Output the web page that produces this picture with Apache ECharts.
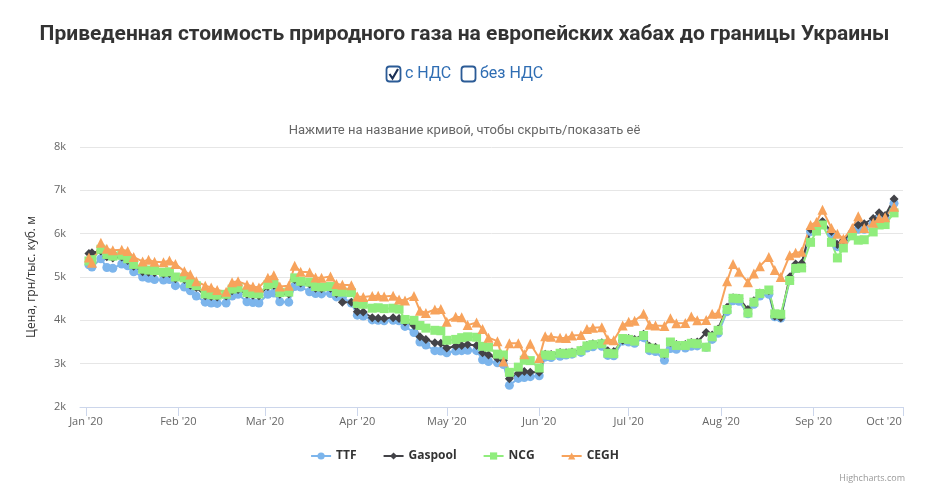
<!DOCTYPE html>
<html>
<head>
<meta charset="utf-8">
<script src="https://cdn.jsdelivr.net/npm/echarts@6/dist/echarts.min.js"></script>
<style>
  html, body { margin: 0; padding: 0; background: #fff; }
  #chart { width: 929px; height: 493px; }
</style>
</head>
<body>
<div id="chart"></div>
<script>
// sampled trading days (Mon / Wed / Fri)
const dates = [
    "2020-01-02", "2020-01-03", "2020-01-06", "2020-01-08", "2020-01-10", "2020-01-13", "2020-01-15", "2020-01-17",
    "2020-01-20", "2020-01-22", "2020-01-24", "2020-01-27", "2020-01-29", "2020-01-31",
    "2020-02-03", "2020-02-05", "2020-02-07", "2020-02-10", "2020-02-12", "2020-02-14", "2020-02-17", "2020-02-19",
    "2020-02-21", "2020-02-24", "2020-02-26", "2020-02-28",
    "2020-03-02", "2020-03-04", "2020-03-06", "2020-03-09", "2020-03-11", "2020-03-13", "2020-03-16", "2020-03-18",
    "2020-03-20", "2020-03-23", "2020-03-25", "2020-03-27", "2020-03-30",
    "2020-04-01", "2020-04-03", "2020-04-06", "2020-04-08", "2020-04-10", "2020-04-13", "2020-04-15", "2020-04-17",
    "2020-04-20", "2020-04-22", "2020-04-24", "2020-04-27", "2020-04-29",
    "2020-05-01", "2020-05-04", "2020-05-06", "2020-05-08", "2020-05-11", "2020-05-13", "2020-05-15", "2020-05-18",
    "2020-05-20", "2020-05-22", "2020-05-25", "2020-05-27", "2020-05-29",
    "2020-06-01", "2020-06-03", "2020-06-05", "2020-06-08", "2020-06-10", "2020-06-12", "2020-06-15", "2020-06-17",
    "2020-06-19", "2020-06-22", "2020-06-24", "2020-06-26", "2020-06-29",
    "2020-07-01", "2020-07-03", "2020-07-06", "2020-07-08", "2020-07-10", "2020-07-13", "2020-07-15", "2020-07-17",
    "2020-07-20", "2020-07-22", "2020-07-24", "2020-07-27", "2020-07-29", "2020-07-31",
    "2020-08-03", "2020-08-05", "2020-08-07", "2020-08-10", "2020-08-12", "2020-08-14", "2020-08-17", "2020-08-19",
    "2020-08-21", "2020-08-24", "2020-08-26", "2020-08-28", "2020-08-31",
    "2020-09-02", "2020-09-04", "2020-09-07", "2020-09-09", "2020-09-11", "2020-09-14", "2020-09-16", "2020-09-18",
    "2020-09-21", "2020-09-23", "2020-09-25", "2020-09-28"
];

const ttf = [
    5280, 5230, 5420, 5220, 5200, 5300, 5260, 5120,
    5000, 4970, 4940, 4930, 4940, 4800,
    4770, 4680, 4560, 4420, 4400, 4390, 4400, 4560,
    4600, 4430, 4410, 4400,
    4600, 4630, 4430, 4420, 4780, 4770, 4660, 4620,
    4610, 4620, 4540, 4530, 4400,
    4120, 4100, 4010, 4000, 3990, 4000, 3990, 3860,
    3720, 3500, 3430, 3300, 3290,
    3250, 3290, 3300, 3310, 3300, 3090, 3050, 3020,
    2980, 2500, 2660, 2680, 2700,
    2720, 3150, 3140, 3170, 3200, 3220, 3260, 3360,
    3390, 3400, 3190, 3180, 3520,
    3500, 3470, 3600, 3300, 3280, 3080, 3350, 3330,
    3360, 3400, 3410, 3380, 3560, 3700,
    4200, 4450, 4440, 4150, 4370, 4560, 4600, 4080,
    4050, 4920, 5200, 5250, 6050,
    6150, 6250, 6000, 5700, 5800, 6000, 6100, 6100,
    6250, 6350, 6380, 6700
];
const gaspool = [
    5540, 5560, 5600, 5470, 5440, 5460, 5380, 5250,
    5120, 5110, 5100, 5070, 5080, 4960,
    4940, 4810, 4760, 4570, 4550, 4540, 4560, 4680,
    4710, 4600, 4580, 4570,
    4780, 4810, 4600, 4610, 4940, 4860, 4840, 4740,
    4730, 4740, 4620, 4420, 4420,
    4200, 4190, 4060, 4050, 4040, 4060, 4040, 3960,
    3880, 3620, 3560, 3480, 3470,
    3360, 3400, 3420, 3440, 3420, 3250, 3200, 3120,
    3080, 2650, 2780, 2820, 2800,
    2800, 3220, 3210, 3260, 3250, 3270, 3310, 3420,
    3460, 3480, 3300, 3280, 3540,
    3580, 3560, 3680, 3400, 3380, 3220, 3480, 3440,
    3440, 3490, 3500, 3720, 3660, 3800,
    4300, 4520, 4510, 4250, 4450, 4630, 4680, 4100,
    4060, 5000, 5300, 5320, 6100,
    6150, 6280, 6050, 5750, 5850, 6050, 6200, 6230,
    6350, 6480, 6420, 6800
];
const ncg = [
    5370, 5400, 5640, 5520, 5480, 5500, 5420, 5290,
    5180, 5160, 5150, 5110, 5120, 5000,
    4980, 4850, 4800, 4610, 4590, 4580, 4600, 4720,
    4750, 4640, 4620, 4610,
    4820, 4850, 4640, 4650, 4980, 4900, 4880, 4780,
    4770, 4780, 4660, 4650, 4640,
    4390, 4370, 4280, 4290, 4270, 4280, 4260, 4020,
    4000, 3880, 3820, 3770, 3760,
    3540, 3560, 3600, 3620, 3610, 3400, 3380, 3220,
    3200, 2800, 2920, 3080, 3070,
    2900, 3200, 3190, 3240, 3230, 3250, 3300, 3410,
    3440, 3460, 3240, 3230, 3580,
    3560, 3520, 3650, 3360, 3340, 3240, 3500, 3420,
    3420, 3470, 3460, 3380, 3620, 3770,
    4250, 4510, 4500, 4170, 4420, 4620, 4700, 4150,
    4140, 4920, 5200, 5210, 5800,
    6060, 6200, 5800, 5440, 5670, 5950, 5850, 5860,
    6040, 6200, 6210, 6480
];
const cegh = [
    5450, 5330, 5790, 5650, 5620, 5630, 5600, 5460,
    5360, 5400, 5350, 5340, 5380, 5300,
    5130, 5060, 4900, 4800, 4760, 4700, 4660, 4880,
    4900, 4820, 4780, 4760,
    4980, 5040, 4780, 4800, 5260, 5120, 5110, 4990,
    4980, 5010, 4840, 4820, 4810,
    4550, 4540, 4560, 4570, 4550, 4570, 4480, 4460,
    4560, 4220, 4170, 4250, 4260,
    3970, 4080, 4070, 3890, 3950, 3800, 3600, 3520,
    3050, 3470, 3470, 3220, 3460,
    3130, 3630, 3620, 3600, 3590, 3650, 3660, 3800,
    3830, 3840, 3560, 3540, 3880,
    3970, 3990, 4150, 3900, 3880, 3870, 4050, 3930,
    3940, 4090, 4000, 4010, 4150, 4160,
    4900, 5300, 5120, 4880, 5080, 5250, 5460, 5160,
    5000, 5500, 5560, 5580, 6200,
    6270, 6550, 6130, 6000, 5880, 6130, 6400, 6130,
    6250, 6360, 6380, 6620
];

const yTicks = ["2k", "3k", "4k", "5k", "6k", "7k", "8k"];
const monthNames = ["Jan", "Feb", "Mar", "Apr", "May", "Jun", "Jul", "Aug", "Sep", "Oct", "Nov", "Dec"];

function pairs(values) {
    return dates.map((d, i) => [d, values[i]]);
}

const chart = echarts.init(document.getElementById("chart"));

function makeSeries(name, values, color, symbol) {
    return {
        name: name,
        type: "line",
        data: pairs(values),
        symbol: symbol,
        symbolSize: symbol === "triangle" ? 10 : 9,
        showSymbol: true,
        lineStyle: { width: 2, color: color },
        itemStyle: { color: color },
        emphasis: { disabled: true }
    };
}

const dayMs = 24 * 3600 * 1000;

const options = {
    animation: false,
    backgroundColor: "#ffffff",
    title: [
        {
            text: "Приведенная стоимость природного газа на европейских хабах до границы Украины",
            left: "center",
            top: 19,
            textStyle: {
                fontFamily: "'Roboto', sans-serif",
                fontSize: 21,
                fontWeight: "bold",
                color: "#333333"
            }
        },
        {
            text: "Нажмите на название кривой, чтобы скрыть/показать её",
            left: "center",
            top: 119,
            textStyle: {
                fontFamily: "'Roboto', sans-serif",
                fontSize: 13,
                fontWeight: "normal",
                color: "#666666"
            }
        }
    ],
    grid: {
        left: 80,
        right: 26,
        top: 147,
        bottom: 86
    },
    xAxis: {
        type: "time",
        min: "2019-12-30",
        max: "2020-10-01",
        minInterval: 28 * dayMs,
        maxInterval: 31 * dayMs,
        axisLine: { lineStyle: { color: "#ccd6eb", width: 1 } },
        axisTick: { show: true, length: 9, lineStyle: { color: "#ccd6eb" } },
        splitLine: { show: false },
        axisLabel: {
            color: "#666666",
            fontSize: 11,
            fontFamily: "'Open Sans', sans-serif",
            margin: 9,
            hideOverlap: false,
            formatter: function (value) {
                const d = new Date(value);
                const label = monthNames[d.getMonth()] + " '" + String(d.getFullYear()).slice(2);
                // the last label is pushed inside the plot, as in the original
                return d.getMonth() === 9 ? "{last|" + label + "}" : label;
            },
            rich: {
                last: {
                    color: "#666666",
                    fontSize: 11,
                    fontFamily: "'Open Sans', sans-serif",
                    padding: [0, 38, 0, 0]
                }
            }
        }
    },
    yAxis: {
        type: "value",
        min: 2000,
        max: 8000,
        interval: 1000,
        name: "Цена, грн/тыс. куб. м",
        nameLocation: "middle",
        nameGap: 42,
        nameTextStyle: {
            color: "#333333",
            fontSize: 12,
            fontFamily: "'Open Sans', sans-serif"
        },
        axisLine: { show: false },
        axisTick: { show: false },
        splitLine: { lineStyle: { color: "#e6e6e6", width: 1 } },
        axisLabel: {
            color: "#666666",
            fontSize: 11,
            fontFamily: "'Open Sans', sans-serif",
            margin: 14,
            formatter: function (value) {
                return yTicks[(value - 2000) / 1000];
            }
        }
    },
    legend: {
        bottom: 26,
        left: "center",
        itemGap: 26,
        itemWidth: 20,
        itemHeight: 9,
        textStyle: {
            color: "#333333",
            fontSize: 12,
            fontWeight: "bold",
            fontFamily: "'Open Sans', sans-serif"
        },
        data: ["TTF", "Gaspool", "NCG", "CEGH"]
    },
    graphic: [
        // checkbox row
        {
            type: "rect",
            shape: { x: 386.5, y: 66.5, width: 14, height: 15, r: 3 },
            style: { fill: "#ffffff", stroke: "#2b5b96", lineWidth: 1.8 }
        },
        {
            type: "polyline",
            shape: { points: [[389.5, 74], [392.5, 78.5], [398, 69]] },
            style: { stroke: "#1b2f55", lineWidth: 2.2, fill: null }
        },
        {
            type: "text",
            x: 405,
            y: 74,
            style: {
                text: "с НДС",
                fill: "#2f6db3",
                fontSize: 16,
                fontFamily: "'Roboto', sans-serif",
                verticalAlign: "middle"
            }
        },
        {
            type: "rect",
            shape: { x: 461.5, y: 66.5, width: 14, height: 15, r: 3 },
            style: { fill: "#ffffff", stroke: "#2b5b96", lineWidth: 1.8 }
        },
        {
            type: "text",
            x: 480,
            y: 74,
            style: {
                text: "без НДС",
                fill: "#2f6db3",
                fontSize: 16,
                fontFamily: "'Roboto', sans-serif",
                verticalAlign: "middle"
            }
        },
        {
            type: "text",
            right: 24,
            bottom: 10,
            style: {
                text: "Highcharts.com",
                fill: "#999999",
                fontSize: 9,
                fontFamily: "'Open Sans', sans-serif"
            }
        }
    ],
    series: [
        makeSeries("TTF", ttf, "#7cb5ec", "circle"),
        makeSeries("Gaspool", gaspool, "#434348", "diamond"),
        makeSeries("NCG", ncg, "#90ed7d", "rect"),
        makeSeries("CEGH", cegh, "#f7a35c", "triangle")
    ]
};

chart.setOption(options);
</script>
</body>
</html>
